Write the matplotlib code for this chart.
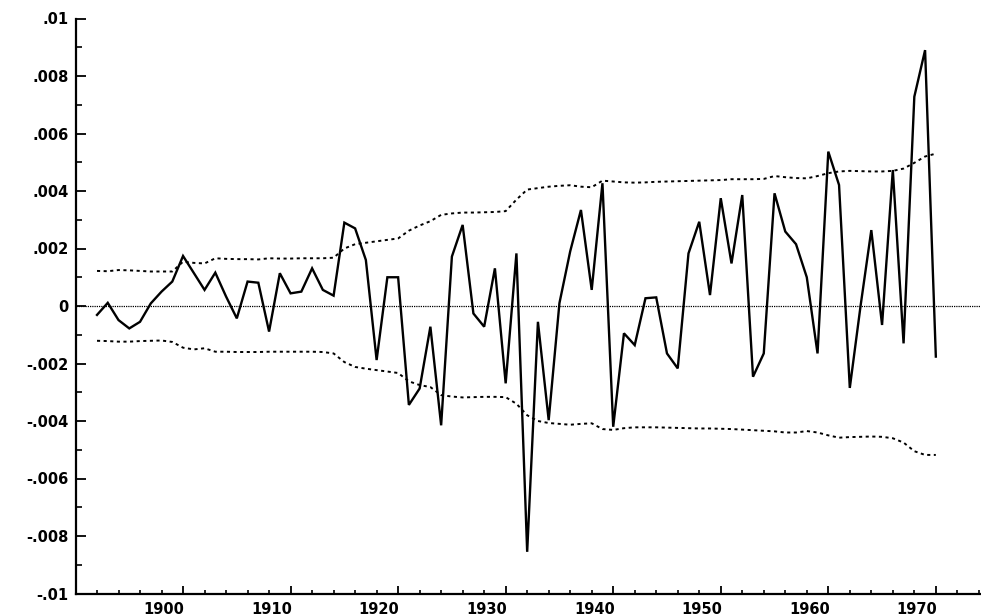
import matplotlib
matplotlib.use("Agg")
import matplotlib.pyplot as plt
from matplotlib.ticker import FixedLocator, MultipleLocator
from matplotlib.transforms import ScaledTranslation

years = list(range(1892, 1971))

resid = [-0.00031, 0.00011, -0.00049, -0.00078, -0.00055, 0.00009, 0.00050, 0.00085,
         0.00174, 0.00115, 0.00056, 0.00116, 0.00033, -0.00043, 0.00085, 0.00081, -0.00089, 0.00114,
         0.00044, 0.00050, 0.00131, 0.00056, 0.00036, 0.00290, 0.00270, 0.00160, -0.00188, 0.00100,
         0.00100, -0.00344, -0.00287, -0.00072, -0.00415, 0.00172, 0.00282, -0.00026, -0.00072, 0.00131,
         -0.00269, 0.00183, -0.00855, -0.00055, -0.00397, 0.00010, 0.00190, 0.00334, 0.00056, 0.00427,
         -0.00420, -0.00095, -0.00136, 0.00027, 0.00030, -0.00165, -0.00217, 0.00183, 0.00293, 0.00038,
         0.00375, 0.00148, 0.00386, -0.00246, -0.00165, 0.00392, 0.00259, 0.00215, 0.00100, -0.00165,
         0.00537, 0.00421, -0.00285, 0.00000, 0.00264, -0.00066, 0.00473, -0.00130, 0.00728, 0.00890,
         -0.00176]

upper = [0.00122, 0.00121, 0.00125, 0.00124, 0.00122, 0.00120, 0.00120, 0.00120,
         0.00154, 0.00150, 0.00148, 0.00166, 0.00164, 0.00163, 0.00163, 0.00162, 0.00166, 0.00165,
         0.00165, 0.00166, 0.00166, 0.00166, 0.00168, 0.00200, 0.00215, 0.00220, 0.00225, 0.00230,
         0.00235, 0.00262, 0.00280, 0.00295, 0.00317, 0.00322, 0.00325, 0.00325, 0.00326, 0.00327,
         0.00330, 0.00370, 0.00405, 0.00410, 0.00415, 0.00418, 0.00420, 0.00415, 0.00413, 0.00436,
         0.00433, 0.00430, 0.00429, 0.00430, 0.00432, 0.00433, 0.00434, 0.00435, 0.00436, 0.00437,
         0.00438, 0.00441, 0.00441, 0.00441, 0.00442, 0.00452, 0.00448, 0.00445, 0.00444, 0.00452,
         0.00462, 0.00468, 0.00470, 0.00469, 0.00468, 0.00468, 0.00470, 0.00478, 0.00498, 0.00520,
         0.00530]

lower = [-0.00121, -0.00122, -0.00124, -0.00124, -0.00122, -0.00121, -0.00120, -0.00125,
         -0.00145, -0.00151, -0.00147, -0.00159, -0.00159, -0.00160, -0.00160, -0.00160, -0.00159, -0.00159,
         -0.00159, -0.00159, -0.00159, -0.00160, -0.00165, -0.00195, -0.00212, -0.00218, -0.00223, -0.00228,
         -0.00233, -0.00262, -0.00275, -0.00282, -0.00310, -0.00315, -0.00318, -0.00317, -0.00316, -0.00316,
         -0.00317, -0.00340, -0.00380, -0.00400, -0.00407, -0.00410, -0.00413, -0.00410, -0.00408, -0.00428,
         -0.00431, -0.00425, -0.00422, -0.00422, -0.00422, -0.00423, -0.00424, -0.00425, -0.00426, -0.00426,
         -0.00427, -0.00428, -0.00430, -0.00432, -0.00434, -0.00436, -0.00440, -0.00440, -0.00435, -0.00440,
         -0.00450, -0.00458, -0.00456, -0.00455, -0.00454, -0.00455, -0.00460, -0.00475, -0.00505, -0.00518,
         -0.00518]

x_ticks = [1900, 1910, 1920, 1930, 1940, 1950, 1960, 1970]
x_labels = ["1900", "1910", "1920", "1930", "1940", "1950", "1960", "1970"]
y_ticks = [0.01, 0.008, 0.006, 0.004, 0.002, 0.0, -0.002, -0.004, -0.006, -0.008, -0.01]
y_labels = [".01", ".008", ".006", ".004", ".002", "0",
            "-.002", "-.004", "-.006", "-.008", "-.01"]

W, H = 981, 615
fig = plt.figure(figsize=(W / 100, H / 100), dpi=100)
fig.patch.set_facecolor("white")
left_px, bottom_px, top_px = 75.5, 593.5, 18.5
ax = fig.add_axes([left_px / W, (H - bottom_px) / H, (W - left_px) / W, (bottom_px - top_px) / H])

ax.plot(years, resid, color="black", lw=1.7, solid_joinstyle="miter", zorder=3)
ax.plot(years, upper, color="black", lw=1.4, linestyle=(0, (1.6, 1.8)), zorder=2)
ax.plot(years, lower, color="black", lw=1.4, linestyle=(0, (1.6, 1.8)), zorder=2)
ax.axhline(0, color="black", lw=0.9, linestyle=(0, (1, 0.8)), zorder=1)

ax.set_xlim(1890, 1974.2)
ax.set_ylim(-0.01, 0.01)

for s in ["top", "right"]:
    ax.spines[s].set_visible(False)
for s in ["left", "bottom"]:
    ax.spines[s].set_linewidth(1.6)
    ax.spines[s].set_color("black")

ax.xaxis.set_major_locator(FixedLocator(x_ticks))
ax.xaxis.set_minor_locator(MultipleLocator(2))
ax.set_xticklabels(x_labels)
ax.yaxis.set_major_locator(FixedLocator(y_ticks))
ax.yaxis.set_minor_locator(MultipleLocator(0.001))
ax.set_yticklabels(y_labels)

ax.tick_params(axis="x", which="major", direction="in", length=5.5, width=1.3, pad=6)
ax.tick_params(axis="x", which="minor", direction="in", length=2.8, width=1.2)
ax.tick_params(axis="y", which="major", direction="in", length=7.5, width=1.3, pad=5)
ax.tick_params(axis="y", which="minor", direction="in", length=4.5, width=1.2)

for lab in ax.get_xticklabels():
    lab.set_fontfamily("DejaVu Sans")
    lab.set_fontweight("bold")
    lab.set_fontsize(10.5)
    lab.set_transform(lab.get_transform() + ScaledTranslation(-19 / 100, 0, fig.dpi_scale_trans))
for lab in ax.get_yticklabels():
    lab.set_fontfamily("DejaVu Sans")
    lab.set_fontweight("bold")
    lab.set_fontsize(10.5)

fig.savefig("out.png", dpi=100, facecolor="white")
